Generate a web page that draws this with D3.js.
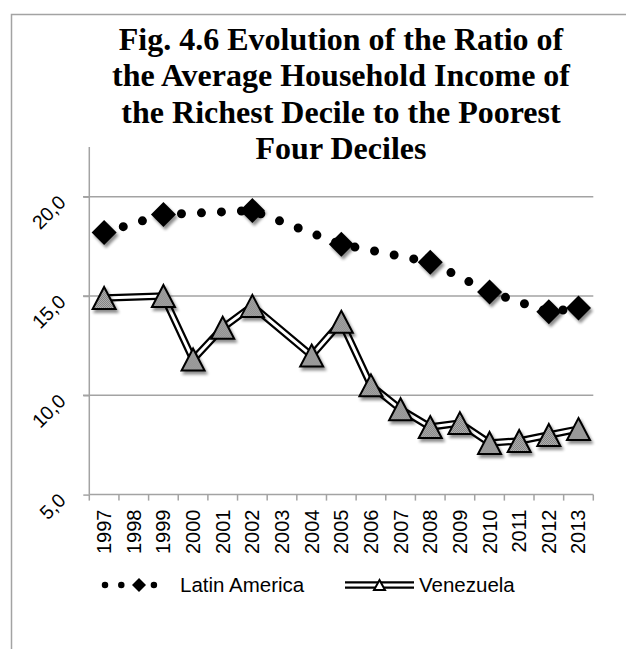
<!DOCTYPE html>
<html>
<head>
<meta charset="utf-8">
<script src="https://cdn.jsdelivr.net/npm/d3@7"></script>
<style>
  html, body { margin: 0; padding: 0; background: #fff; }
  svg { display: block; }
</style>
</head>
<body>
<svg id="chart" width="626" height="649"></svg>
<script>
// Category labels (survey years)
const years = ["1997","1998","1999","2000","2001","2002","2003","2004","2005",
               "2006","2007","2008","2009","2010","2011","2012","2013"];

// Ratio of richest decile income to poorest four deciles (null = no survey that year)
const latinAmerica = [18.2, null, 19.1, null, null, 19.3, null, null, 17.6,
                      null, null, 16.7, null, 15.2, null, 14.2, 14.4];
const venezuela    = [14.9, null, 15.0, 11.8, 13.4, 14.5, null, 12.0, 13.7,
                      10.5, 9.3, 8.4, 8.6, 7.6, 7.7, 8.0, 8.3];

const yTicks = [5, 10, 15, 20];
const titleLines = ["Fig. 4.6 Evolution of the Ratio of",
                    "the Average Household Income of",
                    "the Richest Decile to the Poorest",
                    "Four Deciles"];
const seriesNames = ["Latin America", "Venezuela"];

const svg = d3.select("#chart");
const gray = "#a3a3a3";
const fmt = d => d3.format(".1f")(d).replace(".", ",");

// ---- defs: marker shadow + dotted grey fill ----
const defs = svg.append("defs");
const sh = defs.append("filter").attr("id", "shadow")
  .attr("x", "-50%").attr("y", "-50%").attr("width", "200%").attr("height", "200%");
sh.append("feGaussianBlur").attr("in", "SourceAlpha").attr("stdDeviation", 1.6).attr("result", "b");
sh.append("feOffset").attr("in", "b").attr("dx", 1.5).attr("dy", 3).attr("result", "o");
sh.append("feComponentTransfer").attr("in", "o").attr("result", "s")
  .append("feFuncA").attr("type", "linear").attr("slope", 0.45);
const mg = sh.append("feMerge");
mg.append("feMergeNode").attr("in", "s");
mg.append("feMergeNode").attr("in", "SourceGraphic");

const pat = defs.append("pattern").attr("id", "dots")
  .attr("patternUnits", "userSpaceOnUse").attr("width", 2).attr("height", 2);
pat.append("rect").attr("width", 2).attr("height", 2).attr("fill", "#b8b8b8");
pat.append("rect").attr("width", 1).attr("height", 1).attr("fill", "#7a7a7a");
pat.append("rect").attr("x", 1).attr("y", 1).attr("width", 1).attr("height", 1).attr("fill", "#7a7a7a");

// ---- chart frame ----
svg.append("path")
  .attr("d", "M11.5,660V14.5H640")
  .attr("fill", "none").attr("stroke", gray).attr("stroke-width", 1.5);

// ---- title ----
svg.append("text")
  .attr("x", 341).attr("y", 50)
  .attr("text-anchor", "middle")
  .style("font-family", "'Liberation Serif', 'Times New Roman', serif")
  .style("font-weight", "bold").style("font-size", "32px").attr("fill", "#000")
  .selectAll("tspan").data(titleLines).join("tspan")
  .attr("x", 341).attr("dy", (d, i) => i === 0 ? 0 : 36.4).text(d => d);

// ---- scales ----
const x = d3.scaleBand().domain(years).range([89.3, 593.3]).padding(0);
const y = d3.scaleLinear().domain([5, 22.5]).range([494.6, 147]);
const cx = d => x(d) + x.bandwidth() / 2;

// gridlines
svg.append("g").selectAll("line").data(yTicks.filter(v => v > 5)).join("line")
  .attr("x1", 83).attr("x2", 593.3)
  .attr("y1", d => y(d)).attr("y2", d => y(d))
  .attr("stroke", gray).attr("stroke-width", 1.5);

// y axis
const yAxis = svg.append("g").attr("transform", "translate(89.3,0)")
  .call(d3.axisLeft(y).tickValues(yTicks).tickSize(6).tickFormat(""));
yAxis.selectAll("line,path").attr("stroke", gray).attr("stroke-width", 1.5);
yAxis.select(".domain").attr("d", `M0,${y(22.5)}V${y(5)}`);

// y labels, rotated
svg.append("g").selectAll("text").data(yTicks).join("text")
  .attr("transform", d => `translate(67,${y(d) + 7}) rotate(-45)`)
  .attr("text-anchor", "end")
  .style("font-family", "'Liberation Sans', Arial, sans-serif").style("font-size", "19.5px")
  .attr("fill", "#000").text(fmt);

// x axis
const xAxis = svg.append("g").attr("transform", `translate(0,${y(5)})`)
  .call(d3.axisBottom(x).tickSize(0).tickFormat(""));
xAxis.select(".domain").attr("d", `M89.3,0H593.3`).attr("stroke", gray).attr("stroke-width", 1.5);
const bounds = years.map(d => x(d)).concat([x(years[years.length - 1]) + x.bandwidth()]);
xAxis.selectAll(".bt").data(bounds).join("line").attr("class", "bt")
  .attr("x1", d => d).attr("x2", d => d).attr("y1", 0).attr("y2", 6)
  .attr("stroke", gray).attr("stroke-width", 1.5);

svg.append("g").selectAll("text").data(years).join("text")
  .attr("transform", d => `translate(${cx(d)},509.5) rotate(-90)`)
  .attr("text-anchor", "end").attr("dy", "0.35em")
  .style("font-family", "'Liberation Sans', Arial, sans-serif").style("font-size", "20px")
  .attr("fill", "#000").text(d => d);

// ---- series ----
const laPts = years.map((d, i) => ({ year: d, v: latinAmerica[i] })).filter(p => p.v != null);
const vePts = years.map((d, i) => ({ year: d, v: venezuela[i] })).filter(p => p.v != null);
const line = d3.line().x(p => cx(p.year)).y(p => y(p.v));

// Latin America: round-dot line
svg.append("path").attr("d", line(laPts))
  .attr("fill", "none").attr("stroke", "#000").attr("stroke-width", 9)
  .attr("stroke-linecap", "round").attr("stroke-dasharray", "0 20");

// Venezuela: double line
svg.append("path").attr("d", line(vePts))
  .attr("fill", "none").attr("stroke", "#000").attr("stroke-width", 7.5)
  .attr("stroke-linejoin", "miter");
svg.append("path").attr("d", line(vePts))
  .attr("fill", "none").attr("stroke", "#fff").attr("stroke-width", 3)
  .attr("stroke-linejoin", "miter");

// markers
const diamond = r => `M0,${-r}L${r},0L0,${r}L${-r},0Z`;
const triangle = (w, h) => `M0,${-h / 2}L${w / 2},${h / 2}L${-w / 2},${h / 2}Z`;

svg.append("g").selectAll("path").data(laPts).join("path")
  .attr("transform", p => `translate(${cx(p.year)},${y(p.v)})`)
  .attr("d", diamond(12.5)).attr("fill", "#000").attr("filter", "url(#shadow)");

svg.append("g").selectAll("path").data(vePts).join("path")
  .attr("transform", p => `translate(${cx(p.year)},${y(p.v)})`)
  .attr("d", triangle(23, 22)).attr("fill", "url(#dots)")
  .attr("stroke", "#000").attr("stroke-width", 2).attr("stroke-linejoin", "miter")
  .attr("filter", "url(#shadow)");

// ---- legend ----
const lg = svg.append("g").attr("transform", "translate(0,585)");
lg.append("path").attr("d", "M105,0H170")
  .attr("stroke", "#000").attr("stroke-width", 6.5).attr("stroke-linecap", "round")
  .attr("stroke-dasharray", "0 16.3");
lg.append("rect").attr("x", 131).attr("y", -8).attr("width", 16).attr("height", 16).attr("fill", "#fff");
lg.append("path").attr("transform", "translate(139,0)").attr("d", diamond(7)).attr("fill", "#000");
lg.append("text").attr("x", 180).attr("y", 7).text(seriesNames[0])
  .style("font-family", "'Liberation Sans', Arial, sans-serif").style("font-size", "20.5px");

lg.append("path").attr("d", "M345,0H414").attr("stroke", "#000").attr("stroke-width", 7.5);
lg.append("path").attr("d", "M345,0H414").attr("stroke", "#fff").attr("stroke-width", 3);
lg.append("path").attr("transform", "translate(379.5,0)").attr("d", triangle(11, 10))
  .attr("fill", "#fff").attr("stroke", "#000").attr("stroke-width", 2);
lg.append("text").attr("x", 419).attr("y", 7).text(seriesNames[1])
  .style("font-family", "'Liberation Sans', Arial, sans-serif").style("font-size", "20.5px");
</script>
</body>
</html>
